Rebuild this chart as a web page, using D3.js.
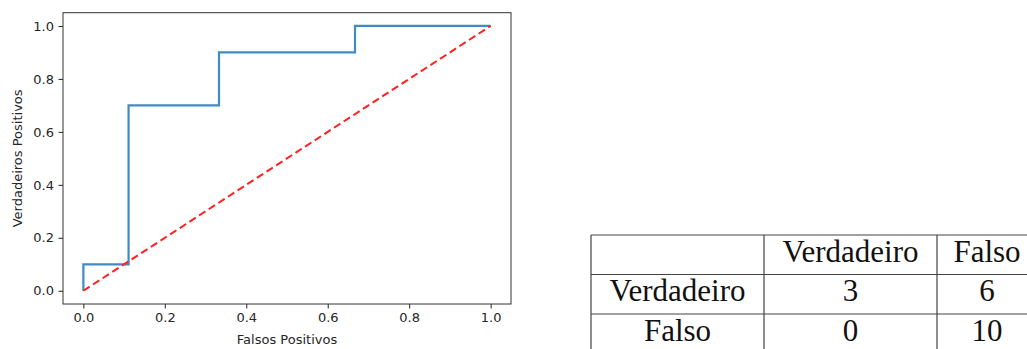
<!DOCTYPE html>
<html>
<head>
<meta charset="utf-8">
<script src="https://cdn.jsdelivr.net/npm/d3@7"></script>
<style>
  body { margin: 0; background: #fff; overflow: hidden; }
  svg { display: block; }
</style>
</head>
<body>
<script>
const width = 1027;
const height = 349;

// ROC curve data (false positive rate, true positive rate)
const fpr = [0, 0, 0.111, 0.111, 0.333, 0.333, 0.667, 0.667, 1.0];
const tpr = [0, 0.1, 0.1, 0.7, 0.7, 0.9, 0.9, 1.0, 1.0];
const diagX = [0, 1];
const diagY = [0, 1];
const tickValues = [0, 0.2, 0.4, 0.6, 0.8, 1.0];

// confusion table
const tableHeader = ["", "Verdadeiro", "Falso"];
const rowLabels = ["Verdadeiro", "Falso"];
const tableValues = [[3, 6], [0, 10]];

const svg = d3.select("body")
    .append("svg")
    .attr("width", width)
    .attr("height", height);

// ---- ROC plot ----
const frame = { left: 63, right: 511, top: 12.7, bottom: 304 };

const x = d3.scaleLinear().domain([-0.05, 1.05]).range([frame.left, frame.right]);
const y = d3.scaleLinear().domain([-0.05, 1.05]).range([frame.bottom, frame.top]);

const plot = svg.append("g").attr("class", "roc");
const font = "'DejaVu Sans', sans-serif";

const xAxis = plot.append("g")
    .attr("transform", `translate(0,${frame.bottom})`)
    .call(d3.axisBottom(x).tickValues(tickValues).tickFormat(d3.format(".1f")).tickSize(4.5).tickPadding(4.5));
const yAxis = plot.append("g")
    .attr("transform", `translate(${frame.left},0)`)
    .call(d3.axisLeft(y).tickValues(tickValues).tickFormat(d3.format(".1f")).tickSize(4.5).tickPadding(4.5));

[xAxis, yAxis].forEach(ax => {
    ax.select(".domain").remove();
    ax.selectAll("line").attr("stroke", "#222").attr("stroke-width", 1);
    ax.selectAll("text").attr("fill", "#262626").style("font-family", font).style("font-size", "13px");
});

const line = d3.line().x(d => x(d[0])).y(d => y(d[1]));

plot.append("path")
    .datum(fpr.map((v, i) => [v, tpr[i]]))
    .attr("d", line)
    .attr("fill", "none")
    .attr("stroke", "#3f8bc5")
    .attr("stroke-width", 2.2)
    .attr("stroke-linejoin", "miter");

plot.append("path")
    .datum(diagX.map((v, i) => [v, diagY[i]]))
    .attr("d", line)
    .attr("fill", "none")
    .attr("stroke", "#ff2020")
    .attr("stroke-width", 2)
    .attr("stroke-dasharray", "7.5,4");

plot.append("rect")
    .attr("x", frame.left)
    .attr("y", frame.top)
    .attr("width", frame.right - frame.left)
    .attr("height", frame.bottom - frame.top)
    .attr("fill", "none")
    .attr("stroke", "#333")
    .attr("stroke-width", 1);

plot.append("text")
    .attr("x", (frame.left + frame.right) / 2)
    .attr("y", 344)
    .attr("text-anchor", "middle")
    .attr("fill", "#262626")
    .style("font-family", font)
    .style("font-size", "13px")
    .text("Falsos Positivos");

plot.append("text")
    .attr("transform", `translate(22,${(frame.top + frame.bottom) / 2}) rotate(-90)`)
    .attr("text-anchor", "middle")
    .attr("fill", "#262626")
    .style("font-family", font)
    .style("font-size", "13px")
    .text("Verdadeiros Positivos");

// ---- confusion table ----
const colEdges = [591, 764, 937, 1037];
const rowEdges = [235, 274.5, 314, 353.5];
const table = svg.append("g").attr("class", "table");
const serif = "'Liberation Serif', 'Times New Roman', serif";

const rows = [tableHeader].concat(rowLabels.map((r, i) => [r].concat(tableValues[i])));

rowEdges.forEach(yy => {
    table.append("line")
        .attr("x1", colEdges[0]).attr("x2", colEdges[colEdges.length - 1])
        .attr("y1", yy).attr("y2", yy)
        .attr("stroke", "#444").attr("stroke-width", 1.2);
});
colEdges.forEach(xx => {
    table.append("line")
        .attr("x1", xx).attr("x2", xx)
        .attr("y1", rowEdges[0]).attr("y2", rowEdges[rowEdges.length - 1])
        .attr("stroke", "#444").attr("stroke-width", 1.2);
});

rows.forEach((row, ri) => {
    row.forEach((cell, ci) => {
        table.append("text")
            .attr("x", (colEdges[ci] + colEdges[ci + 1]) / 2)
            .attr("y", rowEdges[ri] + 26.5)
            .attr("text-anchor", "middle")
            .attr("fill", "#111")
            .style("font-family", serif)
            .style("font-size", "31px")
            .text(cell);
    });
});
</script>
</body>
</html>
